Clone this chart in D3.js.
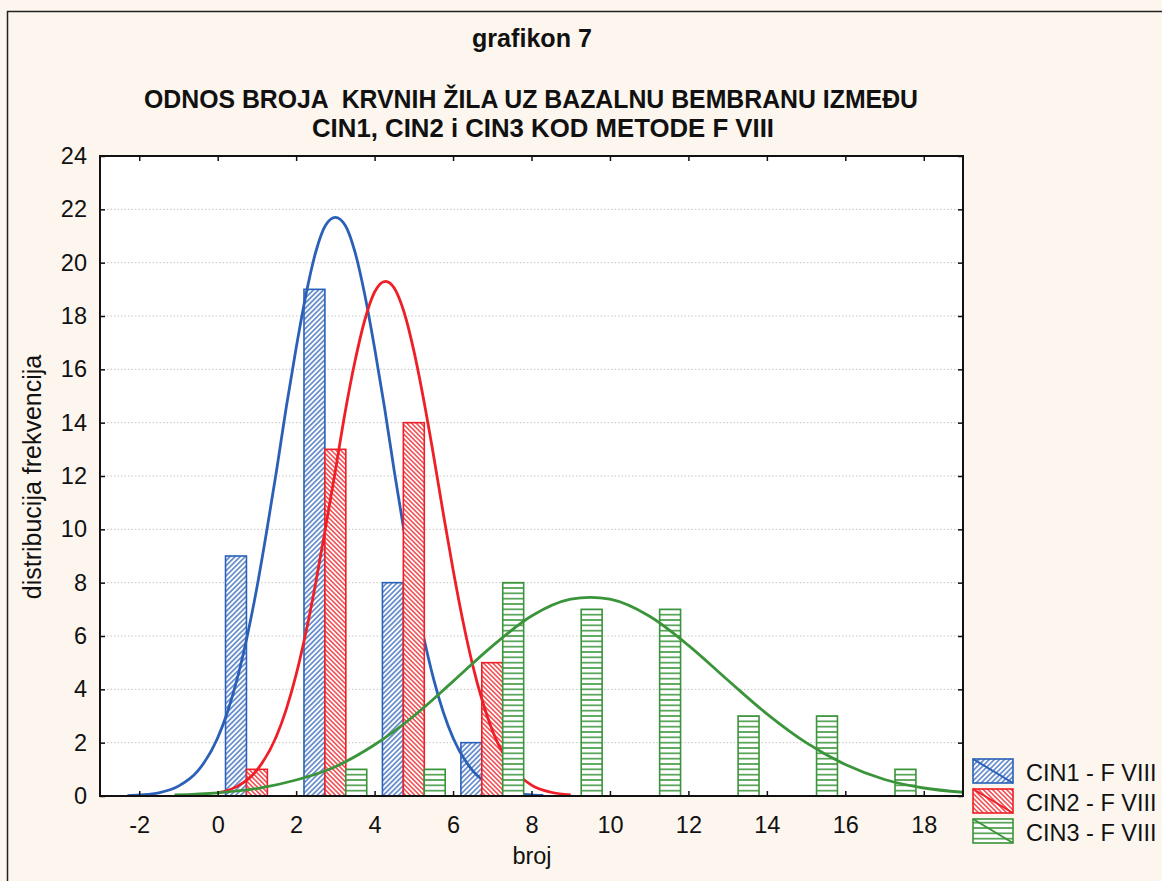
<!DOCTYPE html>
<html>
<head>
<meta charset="utf-8">
<script src="https://cdn.jsdelivr.net/npm/d3@7"></script>
<style>
  html, body { margin: 0; padding: 0; background: #fdf6ee; }
  svg { display: block; }
  text { font-family: "Liberation Sans", Arial, Helvetica, sans-serif; fill: #111; white-space: pre; }
</style>
</head>
<body>
<div id="chart"></div>
<script>
// ---------------- data ----------------
const binCenters = [1, 3, 5, 7, 9, 11, 13, 15, 17];
const cin1Counts = [9, 19, 8, 2, 0, 0, 0, 0, 0];
const cin2Counts = [1, 13, 14, 5, 0, 0, 0, 0, 0];
const cin3Counts = [0, 1, 1, 8, 7, 7, 3, 3, 1];
const seriesNames = ["CIN1 - F VIII", "CIN2 - F VIII", "CIN3 - F VIII"];

const xTickValues = [-2, 0, 2, 4, 6, 8, 10, 12, 14, 16, 18];
const yTickValues = [0, 2, 4, 6, 8, 10, 12, 14, 16, 18, 20, 22, 24];

// fitted normal curves
const cin1CurveX = [-2.3, -2, -1.5, -1, -0.5, 0, 0.25, 0.5, 0.75, 1, 1.25, 1.5, 1.75, 2, 2.25, 2.5, 2.75, 3, 3.25, 3.5, 3.75, 4, 4.25, 4.5, 4.75, 5, 5.25, 5.5, 5.75, 6, 6.5, 7, 7.5, 8, 8.3];
const cin1CurveY = [0.01, 0.04, 0.12, 0.37, 0.95, 2.18, 3.15, 4.41, 5.97, 7.82, 9.94, 12.2, 14.6, 16.8, 18.8, 20.4, 21.4, 21.7, 21.4, 20.4, 18.8, 16.8, 14.6, 12.2, 9.94, 7.82, 5.97, 4.41, 3.15, 2.18, 0.95, 0.37, 0.12, 0.04, 0.02];

const cin2CurveX = [0, 0.5, 1, 1.5, 1.75, 2, 2.25, 2.5, 2.75, 3, 3.25, 3.5, 3.75, 4, 4.28, 4.5, 4.75, 5, 5.25, 5.5, 5.75, 6, 6.25, 6.5, 7, 7.5, 8, 8.5, 9];
const cin2CurveY = [0.12, 0.36, 0.97, 2.25, 3.26, 4.55, 6.14, 8.0, 10.07, 12.2, 14.4, 16.3, 17.85, 18.9, 19.3, 19.05, 18.15, 16.7, 14.87, 12.8, 10.6, 8.49, 6.57, 4.91, 2.47, 1.08, 0.41, 0.14, 0.04];

const cin3CurveX = [-1.1, 0, 1, 2, 3, 4, 5, 6, 7, 8, 9, 9.5, 10, 11, 12, 13, 14, 15, 16, 17, 18, 19];
const cin3CurveY = [0.04, 0.12, 0.28, 0.6, 1.1, 1.92, 3.0, 4.3, 5.62, 6.75, 7.38, 7.45, 7.38, 6.75, 5.65, 4.35, 3.08, 2.0, 1.18, 0.62, 0.3, 0.14];

// ---------------- layout ----------------
const W = 1162, H = 881;
const plot = { left: 100, right: 963, top: 156, bottom: 796 };
const colors = ["#2a60b8", "#ee1f26", "#3a943a"];

const svg = d3.select("#chart").append("svg")
  .attr("width", W).attr("height", H)
  .attr("viewBox", `0 0 ${W} ${H}`);

svg.append("rect").attr("width", W).attr("height", H).attr("fill", "#fdf6ee");
// outer frame (left & top visible)
svg.append("path")
  .attr("d", `M7.5,${H} V11.5 H${W}`)
  .attr("fill", "none").attr("stroke", "#222").attr("stroke-width", 1.5);

const x = d3.scaleLinear().domain([-3, 19]).range([plot.left, plot.right]);
const y = d3.scaleLinear().domain([0, 24]).range([plot.bottom, plot.top]);

// ---------------- patterns ----------------
const defs = svg.append("defs");
function diagPattern(id, color, step, angle, sw) {
  const p = defs.append("pattern").attr("id", id)
    .attr("patternUnits", "userSpaceOnUse")
    .attr("width", step).attr("height", step)
    .attr("patternTransform", `rotate(${angle})`);
  p.append("rect").attr("width", step).attr("height", step).attr("fill", "#fff");
  p.append("line").attr("x1", step / 2).attr("x2", step / 2)
    .attr("y1", -1).attr("y2", step + 1)
    .attr("stroke", color).attr("stroke-width", sw);
}
diagPattern("pat0", colors[0], 3.6, 45, 1.25);
diagPattern("pat1", colors[1], 3.3, -45, 1.25);
{
  const step = (y(0) - y(0.2));
  const p = defs.append("pattern").attr("id", "pat2")
    .attr("patternUnits", "userSpaceOnUse")
    .attr("width", 10).attr("height", step)
    .attr("y", y(0) % step);
  p.append("rect").attr("width", 10).attr("height", step).attr("fill", "#fff");
  p.append("rect").attr("x", 0).attr("y", -0.75).attr("width", 10).attr("height", 1.5)
    .attr("fill", colors[2]);
  p.append("rect").attr("x", 0).attr("y", step - 0.75).attr("width", 10).attr("height", 1.5)
    .attr("fill", colors[2]);
}
defs.append("clipPath").attr("id", "plotClip")
  .append("rect").attr("x", plot.left).attr("y", plot.top)
  .attr("width", plot.right - plot.left).attr("height", plot.bottom - plot.top);

// ---------------- plot area ----------------
svg.append("rect")
  .attr("x", plot.left).attr("y", plot.top)
  .attr("width", plot.right - plot.left).attr("height", plot.bottom - plot.top)
  .attr("fill", "#fff");

// gridlines
svg.append("g").selectAll("line")
  .data(yTickValues.filter(v => v > 0 && v < 24))
  .join("line")
  .attr("x1", plot.left).attr("x2", plot.right)
  .attr("y1", d => y(d)).attr("y2", d => y(d))
  .attr("stroke", "#c4c4c4").attr("stroke-width", 1)
  .attr("stroke-dasharray", "1.5,2");

// series: bars then curve, in order
const counts = [cin1Counts, cin2Counts, cin3Counts];
const curves = [
  cin1CurveX.map((v, i) => [v, cin1CurveY[i]]),
  cin2CurveX.map((v, i) => [v, cin2CurveY[i]]),
  cin3CurveX.map((v, i) => [v, cin3CurveY[i]])
];
const groupHalf = 0.8, barW = 1.6 / 3;
const line = d3.line().x(d => x(d[0])).y(d => y(d[1])).curve(d3.curveMonotoneX);

const gSeries = svg.append("g").attr("clip-path", "url(#plotClip)");
counts.forEach((arr, si) => {
  const bars = binCenters.map((c, i) => ({ c, v: arr[i] })).filter(d => d.v > 0);
  gSeries.append("g").selectAll("rect").data(bars).join("rect")
    .attr("x", d => x(d.c - groupHalf + si * barW))
    .attr("width", d => x(d.c - groupHalf + (si + 1) * barW) - x(d.c - groupHalf + si * barW))
    .attr("y", d => y(d.v))
    .attr("height", d => y(0) - y(d.v))
    .attr("fill", `url(#pat${si})`)
    .attr("stroke", colors[si]).attr("stroke-width", 1.6);
  gSeries.append("path").datum(curves[si])
    .attr("d", line)
    .attr("fill", "none")
    .attr("stroke", colors[si]).attr("stroke-width", 2.8)
    .attr("stroke-linejoin", "round");
});

// ---------------- axes ----------------
const fontTick = 23.5;
const axB = svg.append("g").attr("transform", `translate(0,${plot.bottom})`)
  .call(d3.axisBottom(x).tickValues(xTickValues).tickSizeInner(-5).tickSizeOuter(0).tickPadding(20));
const axL = svg.append("g").attr("transform", `translate(${plot.left},0)`)
  .call(d3.axisLeft(y).tickValues(yTickValues).tickSizeInner(-5).tickSizeOuter(0).tickPadding(13));
const axT = svg.append("g").attr("transform", `translate(0,${plot.top})`)
  .call(d3.axisTop(x).tickValues(xTickValues).tickSizeInner(-5).tickSizeOuter(0).tickFormat(""));
const axR = svg.append("g").attr("transform", `translate(${plot.right},0)`)
  .call(d3.axisRight(y).tickValues(yTickValues).tickSizeInner(-5).tickSizeOuter(0).tickFormat(""));
[axB, axL, axT, axR].forEach(a => {
  a.select(".domain").remove();
  a.selectAll(".tick line").attr("stroke", "#111").attr("stroke-width", 1.5);
  a.selectAll("text").attr("font-size", fontTick)
    .attr("font-family", '"Liberation Sans", Arial, sans-serif').attr("fill", "#111");
});
axB.selectAll("text").text(d => d < 0 ? "-" + Math.abs(d) : d);

// frame
svg.append("rect")
  .attr("x", plot.left).attr("y", plot.top)
  .attr("width", plot.right - plot.left).attr("height", plot.bottom - plot.top)
  .attr("fill", "none").attr("stroke", "#111").attr("stroke-width", 2);

// ---------------- titles ----------------
function title(txt, x0, x1, yb, size, weight) {
  svg.append("text").attr("x", x0).attr("y", yb)
    .attr("font-size", size).attr("font-weight", weight)
    .attr("textLength", x1 - x0).attr("lengthAdjust", "spacingAndGlyphs")
    .text(txt);
}
title("grafikon 7", 472, 592, 47, 25, "bold");
title("ODNOS BROJA  KRVNIH ŽILA UZ BAZALNU BEMBRANU IZMEĐU", 144, 918, 108, 25, "bold");
title("CIN1, CIN2 i CIN3 KOD METODE F VIII", 312, 774, 137, 25, "bold");

svg.append("text")
  .attr("transform", `translate(41,477) rotate(-90)`)
  .attr("text-anchor", "middle").attr("font-size", 25)
  .text("distribucija frekvencija");
svg.append("text")
  .attr("x", 532).attr("y", 864).attr("text-anchor", "middle").attr("font-size", 23.5)
  .text("broj");

// ---------------- legend ----------------
const legTop = [759, 789, 819];
seriesNames.forEach((name, i) => {
  const g = svg.append("g");
  g.append("rect").attr("x", 973).attr("y", legTop[i]).attr("width", 40).attr("height", 24)
    .attr("fill", `url(#pat${i})`).attr("stroke", colors[i]).attr("stroke-width", 1.6);
  g.append("line").attr("x1", 973).attr("y1", legTop[i]).attr("x2", 1013).attr("y2", legTop[i] + 24)
    .attr("stroke", colors[i]).attr("stroke-width", 2);
  g.append("text").attr("x", 1026).attr("y", legTop[i] + 21.5).attr("font-size", 23.5).text(name);
});
</script>
</body>
</html>
